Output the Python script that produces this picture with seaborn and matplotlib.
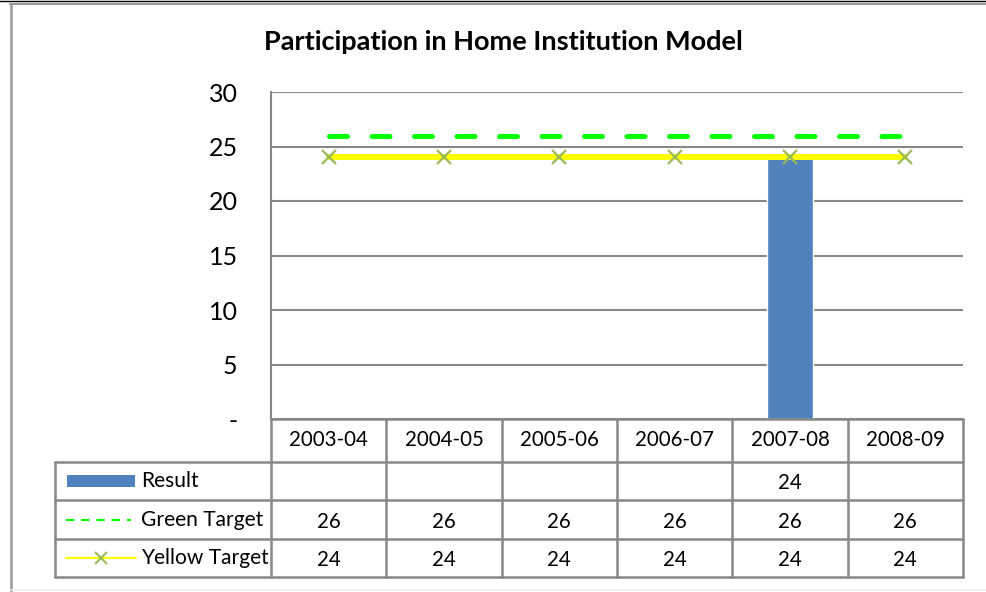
import numpy as np
import pandas as pd
import matplotlib
matplotlib.use("Agg")
import matplotlib.pyplot as plt
from matplotlib.lines import Line2D
from matplotlib.patches import Rectangle
import seaborn as sns

# ---- data ----
categories = ["2003-04", "2004-05", "2005-06", "2006-07", "2007-08", "2008-09"]
result = [np.nan, np.nan, np.nan, np.nan, 24, np.nan]
green_target = [26, 26, 26, 26, 26, 26]
yellow_target = [24, 24, 24, 24, 24, 24]
series_names = ["Result", "Green Target", "Yellow Target"]
yticks = [0, 5, 10, 15, 20, 25, 30]
ytick_labels = ["-", "5", "10", "15", "20", "25", "30"]
title = "Participation in Home Institution Model"

sns.set_theme(style="white")
plt.rcParams["font.family"] = ["Lato", "DejaVu Sans"]

W, H = 986, 592
fig = plt.figure(figsize=(W / 100, H / 100), dpi=100)
fig.patch.set_facecolor("white")

def fx(px):
    return px / W

def fy(py):
    return 1 - py / H

GRID = "#888888"
BAR = "#4F81BD"
GREEN = "#00FF00"
YELLOW = "#FFFF00"
XMARK = "#9BBB59"

# main plot area
L, R, T, B = 271, 963, 92, 419
ax = fig.add_axes([fx(L), fy(B), fx(R - L), (B - T) / H])

df = pd.DataFrame({"cat": categories, "result": result})
sns.barplot(data=df.dropna(), x="cat", y="result", order=categories,
            color=BAR, width=0.4, saturation=1, ax=ax, zorder=2)

xpos = np.arange(len(categories))
sns.lineplot(x=xpos, y=green_target, ax=ax, color=GREEN, lw=3.6,
             linestyle=(0, (3.6, 4.9)), dash_capstyle="round", zorder=3)
sns.lineplot(x=xpos, y=yellow_target, ax=ax, color=YELLOW, lw=4.3,
             marker="x", markersize=10, mew=1.6, mec=XMARK, mfc=XMARK, zorder=4)

ax.set_xlim(-0.5, len(categories) - 0.5)
ax.set_ylim(0, 30)
ax.set_yticks(yticks)
ax.set_yticklabels(ytick_labels)
ax.set_xticks([])
ax.set_xlabel("")
ax.set_ylabel("")
ax.tick_params(axis="y", length=0, pad=24, labelsize=18, labelcolor="black")
for lab in ax.get_yticklabels():
    lab.set_horizontalalignment("right")
ax.yaxis.grid(True, color=GRID, lw=1.5)
ax.set_axisbelow(True)
for s in ["top", "right", "bottom"]:
    ax.spines[s].set_visible(False)
ax.spines["left"].set_color(GRID)
ax.spines["left"].set_linewidth(1.5)
ax.set_facecolor("none")

# ---- data table ----
TL, TT, TB = 55, 419, 577
unit = (R - L) / len(categories)
left_units = -0.5 - (L - TL) / unit
tax = fig.add_axes([fx(TL), fy(TB), fx(R - TL), (TB - TT) / H])
tax.set_xlim(left_units, len(categories) - 0.5)
row_edges = [0, 43, 81, 120, 158]
tax.set_ylim(158, 0)
tax.axis("off")
lw_t = 1.8
# horizontal lines
tax.plot([-0.5, len(categories) - 0.5], [0, 0], color=GRID, lw=lw_t, clip_on=False)
for yv in row_edges[1:]:
    tax.plot([left_units, len(categories) - 0.5], [yv, yv], color=GRID, lw=lw_t, clip_on=False)
# vertical lines
for k in range(len(categories) + 1):
    tax.plot([k - 0.5, k - 0.5], [0, 158], color=GRID, lw=lw_t, clip_on=False)
tax.plot([left_units, left_units], [43, 158], color=GRID, lw=lw_t, clip_on=False)

TS = 14.8
for k, c in enumerate(categories):
    tax.text(k, 21.5, c, ha="center", va="center", fontsize=TS, color="black")
rows = [result, green_target, yellow_target]
for r, vals in enumerate(rows):
    yc = (row_edges[r + 1] + row_edges[r + 2]) / 2 + 2
    for k, v in enumerate(vals):
        if not (isinstance(v, float) and np.isnan(v)):
            tax.text(k, yc, f"{v:g}", ha="center", va="center", fontsize=TS, color="black")

# legend keys in the table
px2u = 1 / unit
def ux(px):
    return left_units + (px - TL) * px2u

for r, name in enumerate(series_names):
    yc = (row_edges[r + 1] + row_edges[r + 2]) / 2
    tax.text(ux(141), yc, name, ha="left", va="center", fontsize=TS + 0.3, color="black")
yc0 = (row_edges[1] + row_edges[2]) / 2
tax.add_patch(Rectangle((ux(67), yc0 - 6), ux(135) - ux(67), 12, color=BAR, lw=0))
yc1 = (row_edges[2] + row_edges[3]) / 2
tax.plot([ux(66), ux(131)], [yc1, yc1], color=GREEN, lw=1.5, linestyle=(0, (4, 3.3)))
yc2 = (row_edges[3] + row_edges[4]) / 2
tax.plot([ux(66), ux(136)], [yc2, yc2], color=YELLOW, lw=1.5)
tax.plot([ux(101)], [yc2], marker="x", color=XMARK, markersize=8, mew=1.5)

# title
fig.text(fx(503), fy(42), title, ha="center", va="center", fontsize=19.5,
         fontweight="bold", color="black")

# outer frame
fig.add_artist(Line2D([0, 1], [fy(1), fy(1)], color="black", lw=1))
fig.add_artist(Line2D([fx(10), 1], [fy(3.5), fy(3.5)], color="#999999", lw=1.5))
fig.add_artist(Line2D([fx(11), fx(11)], [fy(3.5), 0], color="#999999", lw=1.8))
fig.add_artist(Line2D([fx(11), 1], [fy(590), fy(590)], color="#eeeeee", lw=1.2))

fig.savefig("out.png", dpi=100)
